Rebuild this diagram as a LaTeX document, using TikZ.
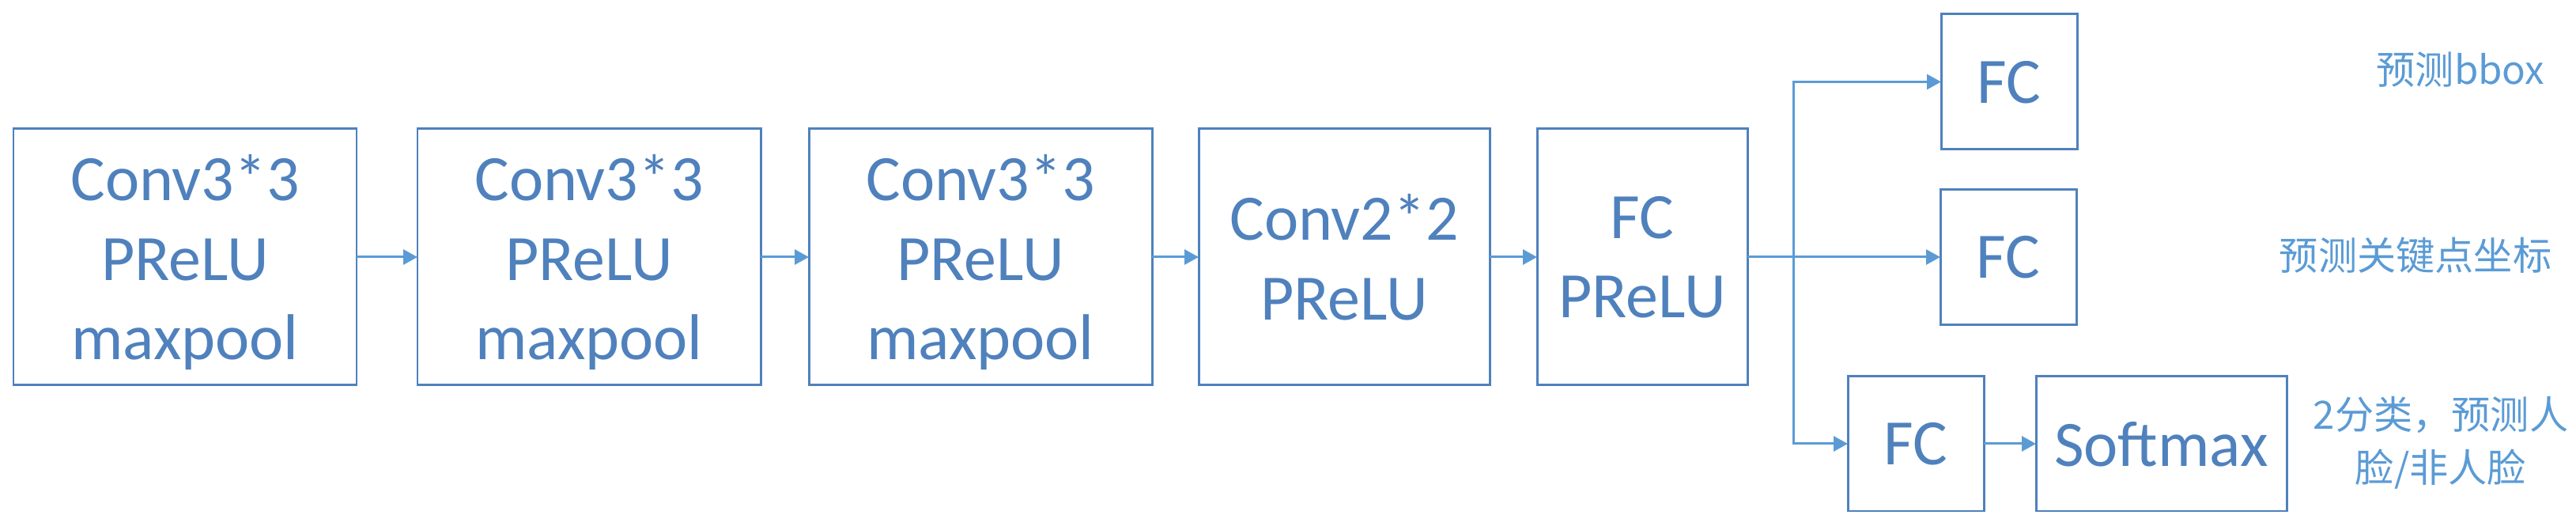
\documentclass[tikz,border=0pt]{standalone}
\usepackage{fontspec}
\setmainfont{Carlito}
\newfontfamily\cjk{Noto Sans CJK SC}
\usepackage{xcolor}
\usetikzlibrary{arrows.meta}
\definecolor{boxblue}{RGB}{79,129,189}
\definecolor{linkblue}{RGB}{91,155,213}

\begin{document}
\begin{tikzpicture}[x=1cm,y=1cm,
  blk/.style={draw=boxblue,line width=0.85pt,text=boxblue,inner sep=0pt,outer sep=0pt,align=center,text depth=0pt,font=\fontsize{23.3}{28.6}\selectfont},
  arr/.style={draw=linkblue,line width=0.85pt,-{Triangle[length=0.18cm,width=0.19cm]}},
  note/.style={text=linkblue,align=center,font=\cjk\fontsize{14}{19}\selectfont}]
\useasboundingbox (0,0) rectangle (32.58,6.7);
\foreach \n/\x/\w/\t in {c1/2.34/4.34/{Conv3*3\\PReLU\\maxpool},c2/7.45/4.34/{Conv3*3\\PReLU\\maxpool},c3/12.40/4.34/{Conv3*3\\PReLU\\maxpool},c4/17.00/3.68/{Conv2*2\\PReLU},c5/20.77/2.66/{FC\\PReLU}}
  {\node[blk,minimum width=\w cm,minimum height=3.24cm] (\n) at (\x,3.45) {\t};}
\foreach \a/\b in {c1/c2,c2/c3,c3/c4,c4/c5} {\draw[arr] (\a) -- (\b);}
\node[blk,minimum width=1.72cm,minimum height=1.71cm] (f1) at (25.41,5.665) {FC};
\node[blk,minimum width=1.72cm,minimum height=1.71cm] (f2) at (25.40,3.45) {FC};
\node[blk,minimum width=1.72cm,minimum height=1.70cm] (f3) at (24.23,1.09) {FC};
\node[blk,minimum width=3.17cm,minimum height=1.70cm] (sm) at (27.335,1.09) {Softmax};
\coordinate (split) at (22.68,3.45);
\draw[arr] (c5) -- (f2);
\draw[arr] (split) |- (f1);
\draw[arr] (split) |- (f3);
\draw[arr] (f3) -- (sm);
\node[note] (n1) at (31.12,5.82) {预测bbox};
\node[note] (n2) at (30.55,3.47) {预测关键点坐标};
\node[note] (n3) at (30.87,1.10) {2分类，预测人\\脸/非人脸};
\end{tikzpicture}
\end{document}
